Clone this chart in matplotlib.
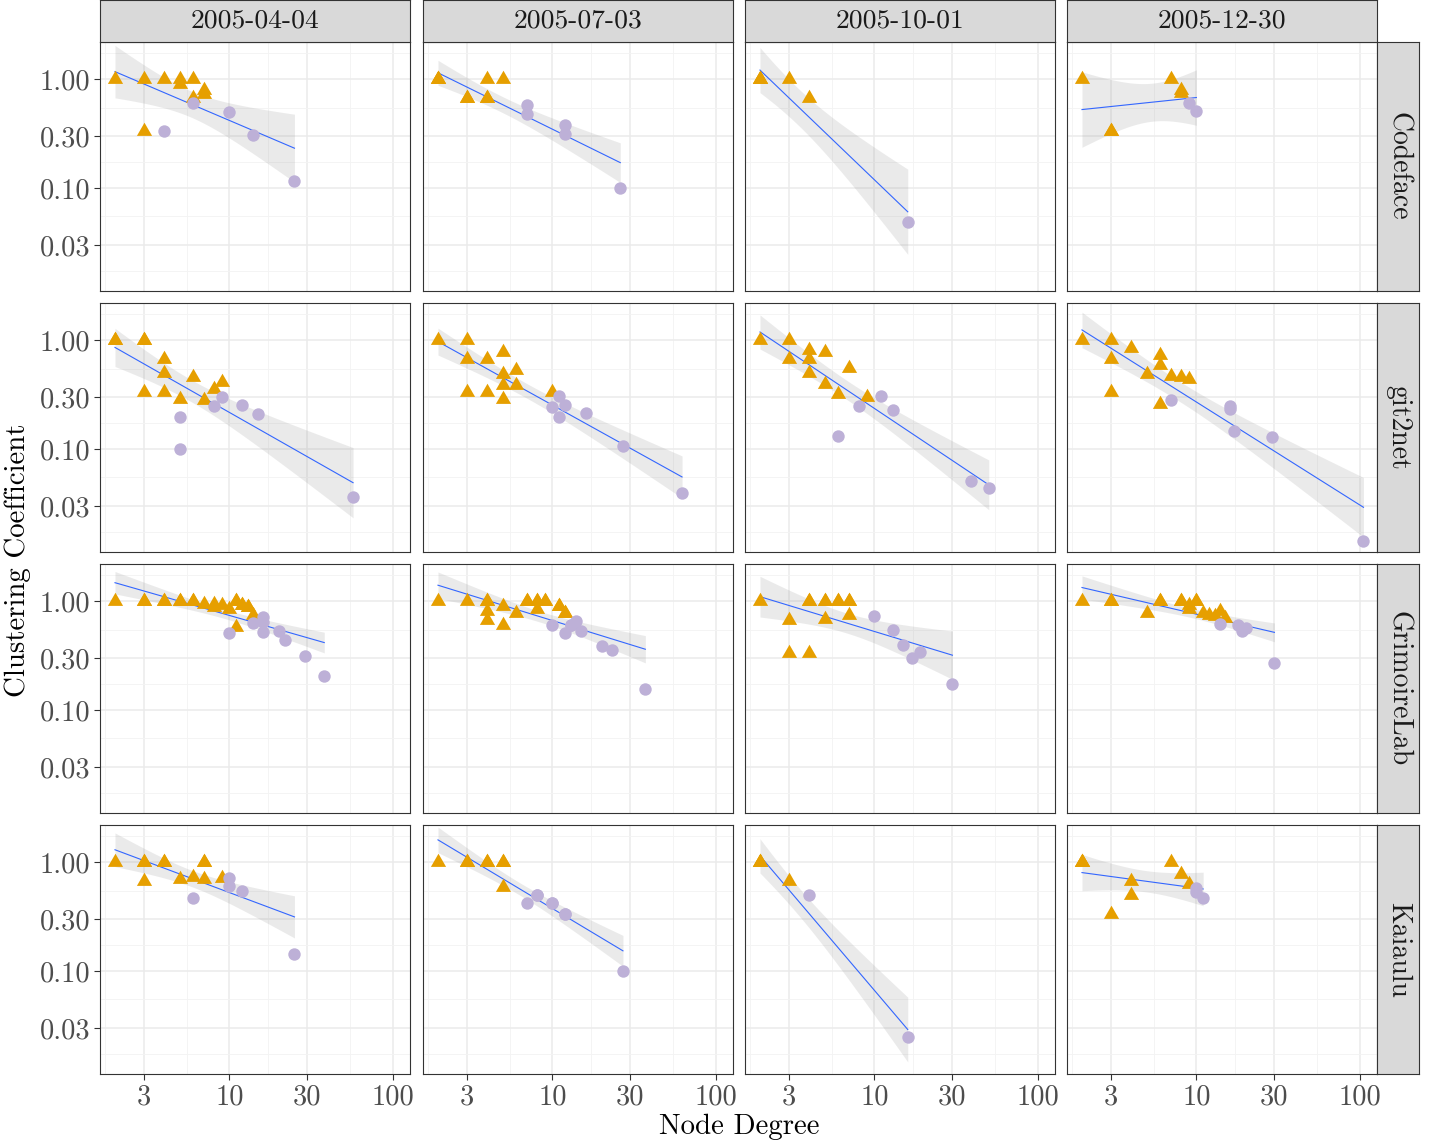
import numpy as np
import matplotlib
matplotlib.use('Agg')
import matplotlib.pyplot as plt
from matplotlib.ticker import FixedLocator, NullFormatter

plt.rcParams['font.family'] = 'cmr10'
plt.rcParams['mathtext.fontset'] = 'cm'
plt.rcParams['axes.unicode_minus'] = False

# facet labels
tools = ['Codeface', 'git2net', 'GrimoireLab', 'Kaiaulu']
dates = ['2005-04-04', '2005-07-03', '2005-10-01', '2005-12-30']

# (node degree, clustering coefficient) per panel, triangles and circles
# (repeated pairs are nodes that sit on top of each other)
cf_0404_tri = [(2, 1), (3, 1), (4, 1), (5, 1), (5, 0.9), (6, 1), (6, 0.667), (7, 0.8), (7, 0.733), (3, 0.333)]
cf_0404_circ = [(4, 0.333), (6, 0.6), (10, 0.5), (14, 0.305), (25, 0.115)]
cf_0703_tri = [(2, 1), (2, 1), (2, 1), (3, 0.667), (3, 0.667), (4, 1), (4, 0.667), (4, 0.667), (5, 1)]
cf_0703_circ = [(7, 0.576), (7, 0.476), (12, 0.383), (12, 0.316), (26, 0.1)]
cf_1001_tri = [(2, 1), (2, 1), (2, 1), (3, 1), (4, 0.667)]
cf_1001_circ = [(16, 0.049)]
cf_1230_tri = [(2, 1), (3, 0.333), (3, 0.333), (7, 1), (8, 0.8), (8, 0.75)]
cf_1230_circ = [(9, 0.61), (10, 0.51)]

g2n_0404_tri = [(2, 1), (2, 1), (3, 1), (3, 1), (4, 0.667), (4, 0.5), (6, 0.46), (3, 0.333), (4, 0.333),
                (5, 0.29), (7, 0.28), (8, 0.354), (9, 0.41)]
g2n_0404_circ = [(5, 0.198), (5, 0.1), (8, 0.249), (9, 0.303), (12, 0.256), (15, 0.209), (57, 0.036)]
g2n_0703_tri = [(2, 1), (3, 1), (3, 0.667), (4, 0.667), (5, 0.78), (5, 0.487), (6, 0.53), (5, 0.39), (6, 0.39),
                (3, 0.333), (4, 0.333), (5, 0.29), (10, 0.333)]
g2n_0703_circ = [(11, 0.305), (10, 0.241), (12, 0.256), (11, 0.198), (16, 0.216), (27, 0.107), (62, 0.039)]
g2n_1001_tri = [(2, 1), (3, 1), (3, 0.667), (4, 0.82), (4, 0.667), (4, 0.5), (5, 0.78), (5, 0.4), (6, 0.32),
                (7, 0.56), (9, 0.3)]
g2n_1001_circ = [(6, 0.132), (8, 0.249), (11, 0.308), (13, 0.23), (39, 0.051), (50, 0.0435)]
g2n_1230_tri = [(2, 1), (3, 1), (3, 0.667), (4, 0.84), (6, 0.73), (6, 0.59), (5, 0.49), (7, 0.47), (8, 0.46),
                (9, 0.44), (3, 0.333), (6, 0.26)]
g2n_1230_circ = [(7, 0.284), (16, 0.25), (16, 0.233), (17, 0.147), (29, 0.13), (105, 0.0142)]

gl_0404_tri = [(2, 1), (3, 1), (3, 1), (4, 1), (4, 1), (5, 1), (5, 1), (6, 1), (6, 1), (7, 0.95),
               (8, 0.95), (8, 0.89), (9, 0.93), (10, 0.84), (11, 1), (11, 1), (12, 0.93), (12, 0.93),
               (13, 0.89), (13, 0.89), (14, 0.75), (11, 0.58)]
gl_0404_circ = [(10, 0.51), (14, 0.63), (16, 0.72), (16, 0.64), (16, 0.52), (20, 0.53), (22, 0.44), (29, 0.316),
                (38, 0.205)]
gl_0703_tri = [(2, 1), (3, 1), (4, 1), (4, 1), (4, 0.81), (4, 0.667), (5, 0.9), (5, 0.6),
               (6, 0.78), (7, 1), (7, 1), (8, 1), (8, 1), (8, 0.84), (9, 1), (9, 1), (11, 0.9), (11, 0.9),
               (12, 0.78), (12, 0.78)]
gl_0703_circ = [(10, 0.605), (12, 0.51), (13, 0.6), (13, 0.6), (14, 0.655), (15, 0.53), (20, 0.385), (23, 0.36),
                (37, 0.155)]
gl_1001_tri = [(2, 1), (3, 0.667), (3, 0.333), (4, 1), (4, 1), (4, 0.333), (5, 1), (5, 1), (5, 0.69), (6, 1),
               (6, 1), (7, 1), (7, 1), (7, 0.75)]
gl_1001_circ = [(10, 0.73), (13, 0.54), (15, 0.4), (17, 0.3), (19, 0.344), (30, 0.174)]
gl_1230_tri = [(2, 1), (3, 1), (3, 1), (5, 0.78), (6, 1), (6, 1), (8, 1), (8, 1), (9, 0.93), (9, 0.84), (10, 1),
               (10, 1), (11, 0.78), (12, 0.75), (13, 0.73), (14, 0.81), (15, 0.7)]
gl_1230_circ = [(14, 0.62), (18, 0.6), (19, 0.53), (20, 0.57), (30, 0.27)]

kai_0404_tri = [(2, 1), (3, 1), (3, 1), (3, 0.667), (4, 1), (4, 1), (5, 0.7), (6, 0.73), (7, 1), (7, 1),
                (7, 0.7), (9, 0.72)]
kai_0404_circ = [(6, 0.466), (10, 0.71), (10, 0.605), (12, 0.545), (25, 0.142)]
kai_0703_tri = [(2, 1), (3, 1), (3, 1), (4, 1), (4, 1), (5, 1), (5, 1), (5, 0.59)]
kai_0703_circ = [(7, 0.425), (8, 0.5), (8, 0.5), (10, 0.42), (10, 0.42), (12, 0.333), (12, 0.333), (27, 0.1)]
kai_1001_tri = [(2, 1), (2, 1), (2, 1), (3, 0.667)]
kai_1001_circ = [(4, 0.5), (16, 0.0245)]
kai_1230_tri = [(2, 1), (2, 1), (2, 1), (3, 0.333), (4, 0.667), (4, 0.5), (7, 1), (8, 0.78), (9, 0.63)]
kai_1230_circ = [(10, 0.576), (10, 0.537), (11, 0.47)]

panels = {
    ('Codeface', 0): (cf_0404_tri, cf_0404_circ), ('Codeface', 1): (cf_0703_tri, cf_0703_circ),
    ('Codeface', 2): (cf_1001_tri, cf_1001_circ), ('Codeface', 3): (cf_1230_tri, cf_1230_circ),
    ('git2net', 0): (g2n_0404_tri, g2n_0404_circ), ('git2net', 1): (g2n_0703_tri, g2n_0703_circ),
    ('git2net', 2): (g2n_1001_tri, g2n_1001_circ), ('git2net', 3): (g2n_1230_tri, g2n_1230_circ),
    ('GrimoireLab', 0): (gl_0404_tri, gl_0404_circ), ('GrimoireLab', 1): (gl_0703_tri, gl_0703_circ),
    ('GrimoireLab', 2): (gl_1001_tri, gl_1001_circ), ('GrimoireLab', 3): (gl_1230_tri, gl_1230_circ),
    ('Kaiaulu', 0): (kai_0404_tri, kai_0404_circ), ('Kaiaulu', 1): (kai_0703_tri, kai_0703_circ),
    ('Kaiaulu', 2): (kai_1001_tri, kai_1001_circ), ('Kaiaulu', 3): (kai_1230_tri, kai_1230_circ),
}

x_ticks = [3, 10, 30, 100]
x_labels = ['3', '10', '30', '100']
y_ticks = [1.0, 0.3, 0.1, 0.03]
y_labels = ['1.00', '0.30', '0.10', '0.03']

# t quantiles (0.975) for df = 1..30
T975 = [12.706, 4.303, 3.182, 2.776, 2.571, 2.447, 2.365, 2.306, 2.262, 2.228, 2.201, 2.179, 2.160, 2.145,
        2.131, 2.120, 2.110, 2.101, 2.093, 2.086, 2.080, 2.074, 2.069, 2.064, 2.060, 2.056, 2.052, 2.048,
        2.045, 2.042]

ORANGE = '#E69F00'
PURPLE = '#BDB0D7'
W, H = 1437, 1142


def fit_band(pts):
    # lm(log10 y ~ log10 x) with 95% confidence band, as geom_smooth does
    lx = np.log10([p[0] for p in pts])
    ly = np.log10([p[1] for p in pts])
    n = len(lx)
    b, a = np.polyfit(lx, ly, 1)
    grid = np.linspace(lx.min(), lx.max(), 80)
    pred = a + b * grid
    s = np.sqrt(np.sum((ly - (a + b * lx)) ** 2) / (n - 2))
    sxx = np.sum((lx - lx.mean()) ** 2)
    se = s * np.sqrt(1 / n + (grid - lx.mean()) ** 2 / sxx)
    t = T975[n - 3] if n - 2 <= 30 else 1.96
    return 10 ** grid, 10 ** pred, 10 ** (pred - t * se), 10 ** (pred + t * se)


# equilateral triangle centred on its centroid
tri_marker = [(0, 1), (-0.866, -0.5), (0.866, -0.5)]

fig = plt.figure(figsize=(W / 100, H / 100), dpi=100)

col_left = [100, 423, 745, 1067]
row_top = [42, 303, 564, 825]
pw, ph = 310, 249


def strip_axes(rect):
    sax = fig.add_axes(rect)
    sax.set_facecolor('#D9D9D9')
    sax.set_xticks([])
    sax.set_yticks([])
    for sp in sax.spines.values():
        sp.set_color('#333333')
        sp.set_linewidth(0.8)
    return sax


for r, tool in enumerate(tools):
    for c in range(4):
        ax = fig.add_axes([col_left[c] / W, 1 - (row_top[r] + ph) / H, pw / W, ph / H])
        ax.set_xscale('log')
        ax.set_yscale('log')
        ax.set_xlim(1.62, 127)
        ax.set_ylim(0.0113, 2.2)
        ax.xaxis.set_major_locator(FixedLocator(x_ticks))
        ax.yaxis.set_major_locator(FixedLocator(y_ticks))
        ax.xaxis.set_minor_locator(FixedLocator([1.732, 5.477, 17.32, 54.77]))
        ax.yaxis.set_minor_locator(FixedLocator([1.732, 0.5477, 0.1732, 0.05477, 0.01732]))
        ax.xaxis.set_minor_formatter(NullFormatter())
        ax.yaxis.set_minor_formatter(NullFormatter())
        ax.grid(True, which='major', color='#EBEBEB', lw=1.1, zorder=0)
        ax.grid(True, which='minor', color='#F3F3F3', lw=0.6, zorder=0)
        ax.set_axisbelow(True)
        ax.tick_params(which='minor', length=0)
        ax.tick_params(which='major', length=4, width=0.8, color='#333333',
                       labelsize=20.5, labelcolor='#4D4D4D', pad=3)
        for sp in ax.spines.values():
            sp.set_color('#333333')
            sp.set_linewidth(0.8)
        if c == 0:
            ax.set_yticklabels(y_labels)
        else:
            ax.tick_params(axis='y', which='major', length=0, labelleft=False)
        if r == 3:
            ax.set_xticklabels(x_labels)
        else:
            ax.tick_params(axis='x', which='major', length=0, labelbottom=False)

        tri, circ = panels[(tool, c)]
        gx, gy, lo, hi = fit_band(tri + circ)
        ax.fill_between(gx, lo, hi, color='#999999', alpha=0.2, lw=0, zorder=1)
        ax.plot(gx, gy, color='#3366FF', lw=0.8, zorder=2)
        ax.scatter([p[0] for p in tri], [p[1] for p in tri], marker=tri_marker, s=160,
                   color=ORANGE, lw=0, zorder=3)
        ax.scatter([p[0] for p in circ], [p[1] for p in circ], marker='o', s=80,
                   color=PURPLE, lw=0, zorder=4)

        if r == 0:
            sax = strip_axes([col_left[c] / W, 1 - row_top[0] / H, pw / W, 42 / H])
            sax.text(0.5, 0.5, dates[c], ha='center', va='center', fontsize=19.8,
                     color='#1A1A1A', transform=sax.transAxes)
        if c == 3:
            sax = strip_axes([(col_left[3] + pw) / W, 1 - (row_top[r] + ph) / H, 42 / W, ph / H])
            sax.text(0.5, 0.5, tool, ha='center', va='center', fontsize=20, rotation=-90,
                     color='#1A1A1A', transform=sax.transAxes)

fig.text(739 / W, 1 - 1127 / H, 'Node Degree', ha='center', va='center', fontsize=20.8, color='black')
fig.text(18 / W, 1 - 560 / H, 'Clustering Coefficient', ha='center', va='center', fontsize=20.8,
         rotation=90, color='black')

fig.savefig('out.png', dpi=100)
